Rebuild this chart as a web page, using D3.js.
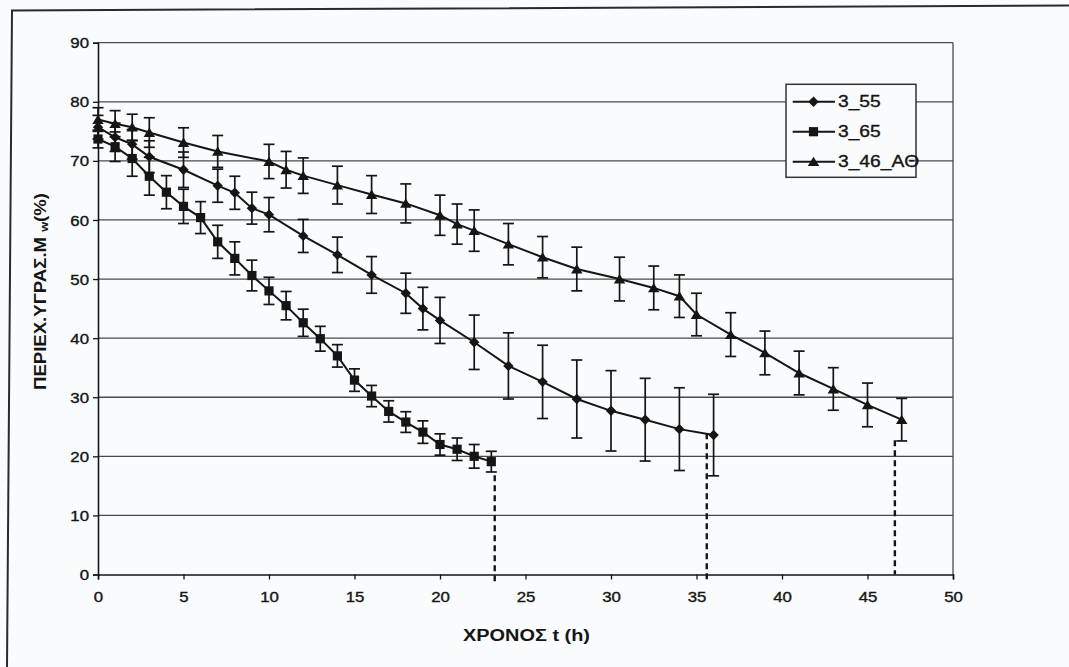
<!DOCTYPE html>
<html>
<head>
<meta charset="utf-8">
<script src="https://cdn.jsdelivr.net/npm/d3@7"></script>
<style>
  html, body { margin: 0; padding: 0; background: #f9fbfc; }
  svg { display: block; }
  text { font-family: "Liberation Sans", Arial, sans-serif; fill: #151515; }
</style>
</head>
<body>
<svg id="chart" width="1069" height="667"></svg>
<script>
// Drying curves: moisture content (%) against time (h), mean ± deviation
const seriesNames = ["3_55", "3_65", "3_46_AΘ"];

const time55 = [0, 1, 2, 3, 5, 7, 8, 9, 10, 12, 14, 16, 18, 19, 20, 22, 24, 26, 28, 30, 32, 34, 36];
const moist55 = [75.7, 74.0, 72.8, 70.7, 68.5, 65.8, 64.6, 62.0, 60.9, 57.3, 54.1, 50.7, 47.6, 45.0, 43.0, 39.3, 35.3, 32.6, 29.7, 27.7, 26.2, 24.6, 23.6];
const err55 = [2.0, 2.4, 2.5, 2.7, 3.0, 2.8, 2.8, 2.7, 2.9, 2.8, 3.0, 3.1, 3.4, 3.6, 3.9, 4.6, 5.6, 6.2, 6.6, 6.8, 7.0, 7.0, 6.9];

const time65 = [0, 1, 2, 3, 4, 5, 6, 7, 8, 9, 10, 11, 12, 13, 14, 15, 16, 17, 18, 19, 20, 21, 22, 23];
const moist65 = [73.7, 72.4, 70.4, 67.4, 64.7, 62.3, 60.4, 56.3, 53.5, 50.6, 48.0, 45.5, 42.6, 39.9, 37.0, 32.9, 30.2, 27.6, 25.8, 24.1, 22.0, 21.2, 20.0, 19.1];
const err65 = [1.5, 2.5, 3.0, 3.2, 2.8, 2.9, 2.7, 2.8, 2.8, 2.6, 2.3, 2.4, 2.3, 2.1, 1.9, 1.9, 1.8, 1.8, 1.75, 1.9, 1.8, 1.9, 2.0, 1.75];

const time46 = [0, 1, 2, 3, 5, 7, 10, 11, 12, 14, 16, 18, 20, 21, 22, 24, 26, 28, 30.5, 32.5, 34, 35, 37, 39, 41, 43, 45, 47];
const moist46 = [77.0, 76.3, 75.7, 74.8, 73.1, 71.6, 69.9, 68.5, 67.5, 65.9, 64.3, 62.8, 60.8, 59.3, 58.2, 55.9, 53.7, 51.7, 50.0, 48.5, 47.1, 44.0, 40.6, 37.5, 34.1, 31.4, 28.7, 26.2];
const err46 = [2.0, 2.2, 2.2, 2.5, 2.5, 2.7, 2.9, 3.1, 3.0, 3.2, 3.2, 3.3, 3.4, 3.4, 3.5, 3.5, 3.5, 3.7, 3.7, 3.7, 3.6, 3.6, 3.7, 3.7, 3.7, 3.6, 3.7, 3.6];

// End-of-drying markers (time, moisture where the dashed drop line starts)
const endTimes = [23.2, 35.6, 46.6];
const endMoist = [16.8, 23.9, 22.7];

const xTicks = [0, 5, 10, 15, 20, 25, 30, 35, 40, 45, 50];
const yTicks = [0, 10, 20, 30, 40, 50, 60, 70, 80, 90];

const xTitle = "ΧΡΟΝΟΣ t (h)";
const yTitleMain = "ΠΕΡΙΕΧ.ΥΓΡΑΣ.Μ";
const yTitleSub = "w";
const yTitleTail = "(%)";

const svg = d3.select("#chart");
const ink = "#151515";
const gridInk = "#4a4a4a";

const plot = { left: 98, right: 953, top: 42.7, bottom: 574.5 };
const x = d3.scaleLinear().domain([0, 50]).range([plot.left, plot.right]);
const y = d3.scaleLinear().domain([0, 90]).range([plot.bottom, plot.top]);

// widen horizontal text slightly, as in the printed figure
function stretch(sel, k) {
  sel.each(function () {
    const len = this.getComputedTextLength();
    d3.select(this).attr("textLength", len * k).attr("lengthAdjust", "spacingAndGlyphs");
  });
}

// page frame (top and left edges)
svg.append("path")
  .attr("d", d3.line()([[1069, 5.5], [12, 10.5], [7, 667]]))
  .attr("fill", "none").attr("stroke", "#2a2a2a").attr("stroke-width", 2);

// horizontal gridlines
svg.append("g").selectAll("line").data(yTicks.filter(v => v > 0)).join("line")
  .attr("x1", plot.left).attr("x2", plot.right)
  .attr("y1", d => y(d)).attr("y2", d => y(d))
  .attr("stroke", gridInk).attr("stroke-width", 1.3);

// right border of the plot area
svg.append("line")
  .attr("x1", plot.right).attr("x2", plot.right)
  .attr("y1", plot.top).attr("y2", plot.bottom)
  .attr("stroke", gridInk).attr("stroke-width", 1.3);

// axes
const xAxis = svg.append("g")
  .attr("transform", `translate(0,${plot.bottom})`)
  .call(d3.axisBottom(x).tickValues(xTicks).tickFormat(d3.format("d")).tickSizeOuter(0).tickSize(5).tickPadding(13));
const yAxis = svg.append("g")
  .attr("transform", `translate(${plot.left},0)`)
  .call(d3.axisLeft(y).tickValues(yTicks).tickFormat(d3.format("d")).tickSizeOuter(0).tickSize(5).tickPadding(4));
[xAxis, yAxis].forEach(a => {
  a.select(".domain").attr("stroke", ink).attr("stroke-width", 1.6);
  a.selectAll(".tick line").attr("stroke", ink).attr("stroke-width", 1.3);
  a.selectAll(".tick text").attr("font-size", 14).attr("fill", ink)
    .attr("stroke", ink).attr("stroke-width", 0.35)
    .style("font-family", '"Liberation Sans", Arial, sans-serif');
});
yAxis.selectAll(".tick text").attr("dy", "0.36em");
stretch(xAxis.selectAll(".tick text"), 1.2);
stretch(yAxis.selectAll(".tick text"), 1.2);

// marker shapes
const shapes = {
  diamond: r => `M0,${-r}L${r},0L0,${r}L${-r},0Z`,
  square: r => `M${-r},${-r}H${r}V${r}H${-r}Z`,
  triangle: r => `M0,${-r * 0.95}L${r * 1.1},${r * 0.85}L${-r * 1.1},${r * 0.85}Z`
};

const series = [
  { name: seriesNames[0], t: time55, m: moist55, e: err55, shape: "diamond", r: 5.2 },
  { name: seriesNames[1], t: time65, m: moist65, e: err65, shape: "square", r: 4.6 },
  { name: seriesNames[2], t: time46, m: moist46, e: err46, shape: "triangle", r: 5.2 }
];

// dashed drop lines at the end of each run
svg.append("g").selectAll("line").data(endTimes.map((t, i) => ({ t, m: endMoist[i], i }))).join("line")
  .attr("x1", d => x(d.t)).attr("x2", d => x(d.t))
  .attr("y1", d => y(d.m)).attr("y2", d => d.i < 2 ? plot.bottom + 7 : plot.bottom)
  .attr("stroke", ink).attr("stroke-width", 2.4).attr("stroke-dasharray", "6,4");

const capW = 11;
series.forEach(s => {
  const pts = s.t.map((t, i) => ({ t, m: s.m[i], e: s.e[i] }));
  const g = svg.append("g");
  // error bars
  const eb = g.append("g").selectAll("g").data(pts).join("g");
  eb.append("line")
    .attr("x1", d => x(d.t)).attr("x2", d => x(d.t))
    .attr("y1", d => y(d.m + d.e)).attr("y2", d => y(d.m - d.e))
    .attr("stroke", ink).attr("stroke-width", 1.7);
  eb.selectAll("line.cap").data(d => [d.m + d.e, d.m - d.e].map(v => ({ t: d.t, v }))).join("line")
    .attr("class", "cap")
    .attr("x1", d => x(d.t) - capW / 2).attr("x2", d => x(d.t) + capW / 2)
    .attr("y1", d => y(d.v)).attr("y2", d => y(d.v))
    .attr("stroke", ink).attr("stroke-width", 1.7);
  // connecting line
  g.append("path")
    .attr("d", d3.line().x(d => x(d.t)).y(d => y(d.m))(pts))
    .attr("fill", "none").attr("stroke", ink).attr("stroke-width", 2);
  // markers
  g.append("g").selectAll("path").data(pts).join("path")
    .attr("transform", d => `translate(${x(d.t)},${y(d.m)})`)
    .attr("d", shapes[s.shape](s.r))
    .attr("fill", ink);
});

// legend
const lg = svg.append("g").attr("transform", "translate(786,84.3)");
lg.append("rect").attr("width", 130).attr("height", 93)
  .attr("fill", "#f9fbfc").attr("stroke", "#333").attr("stroke-width", 1.5);
series.forEach((s, i) => {
  const ly = 17.4 + i * 30;
  lg.append("line").attr("x1", 6.7).attr("x2", 49).attr("y1", ly).attr("y2", ly)
    .attr("stroke", ink).attr("stroke-width", 1.9);
  lg.append("path").attr("transform", `translate(27.5,${ly})`).attr("d", shapes[s.shape](s.r)).attr("fill", ink);
  const tx = lg.append("text").attr("x", 52).attr("y", ly).attr("dy", "0.36em")
    .attr("font-size", 16).attr("stroke", ink).attr("stroke-width", 0.35).text(s.name);
  stretch(tx, 1.2);
});

// axis titles
svg.append("text")
  .attr("x", 526.5).attr("y", 641)
  .attr("text-anchor", "middle").attr("font-size", 16).attr("font-weight", "bold")
  .attr("textLength", 127).attr("lengthAdjust", "spacingAndGlyphs")
  .text(xTitle);

const yt = svg.append("text")
  .attr("transform", "translate(46,291.5) rotate(-90)")
  .attr("text-anchor", "middle").attr("font-size", 16).attr("font-weight", "bold")
  .attr("textLength", 197).attr("lengthAdjust", "spacingAndGlyphs");
yt.append("tspan").text(yTitleMain + " ");
yt.append("tspan").attr("font-size", 11).attr("dy", 2).text(yTitleSub);
yt.append("tspan").attr("dy", -2).text(yTitleTail);
</script>
</body>
</html>
